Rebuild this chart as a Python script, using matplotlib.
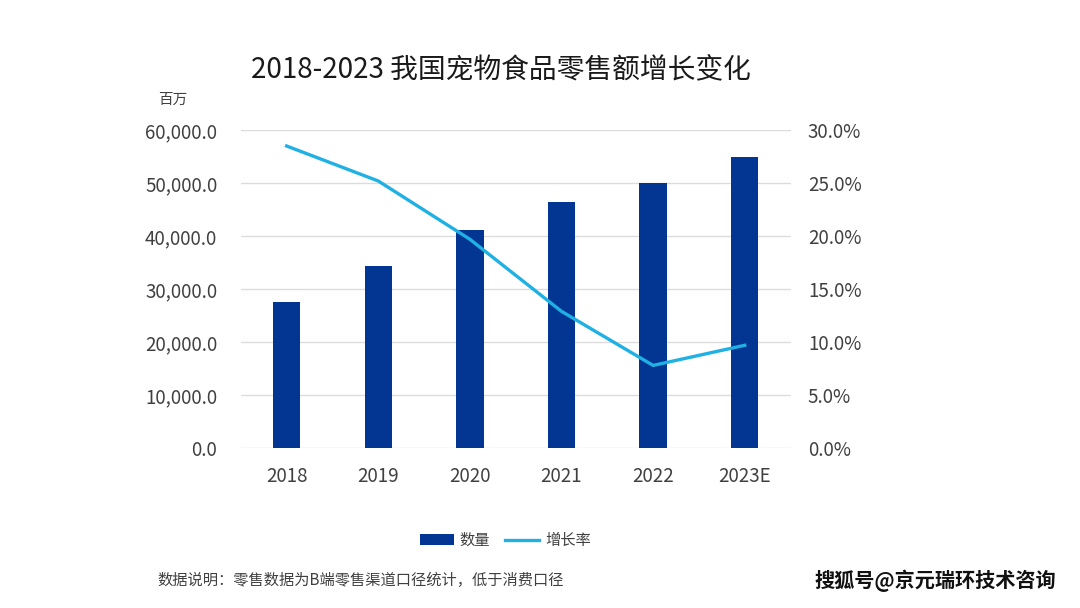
import matplotlib.pyplot as plt
from matplotlib.ticker import FuncFormatter

plt.rcParams['font.family'] = ['Noto Sans CJK SC', 'DejaVu Sans']

years = ["2018", "2019", "2020", "2021", "2022", "2023E"]
sales = [27500, 34300, 41100, 46400, 50000, 54900]
growth = [28.5, 25.2, 19.7, 12.9, 7.8, 9.7]

bar_color = "#033592"
line_color = "#1fb0e4"
text_color = "#404040"

fig = plt.figure(figsize=(10.8, 6.08), dpi=100)
ax = fig.add_axes([0.223, 0.263, 0.509, 0.523])

x = range(len(years))
ax.bar(x, sales, width=0.3, color=bar_color, label="数量", zorder=3)
ax.set_ylim(0, 60000)
ax.set_yticks(range(0, 60001, 10000))
ax.yaxis.set_major_formatter(FuncFormatter(lambda v, p: f"{v:,.1f}"))
ax.set_xlim(-0.5, len(years) - 0.5)
ax.set_xticks(list(x))
ax.set_xticklabels(years)
ax.grid(axis="y", color="#dcdcdc", linewidth=1, zorder=0)
for s in ax.spines.values():
    s.set_visible(False)
ax.tick_params(length=0, labelsize=13.5, colors=text_color, pad=17)
ax.tick_params(axis="x", pad=13)

ax2 = ax.twinx()
ax2.plot(x, growth, color=line_color, linewidth=2.4, label="增长率", zorder=4)
ax2.set_ylim(0, 30)
ax2.set_yticks(range(0, 31, 5))
ax2.yaxis.set_major_formatter(FuncFormatter(lambda v, p: f"{v:.1f}%"))
for s in ax2.spines.values():
    s.set_visible(False)
ax2.tick_params(length=0, labelsize=13.5, colors=text_color, pad=12.5)

fig.text(0.464, 0.884, "2018-2023 我国宠物食品零售额增长变化", ha="center",
         va="center", fontsize=20, color="#1a1a1a")
fig.text(0.146, 0.835, "百万", fontsize=10.5, color=text_color, va="center")

h1, l1 = ax.get_legend_handles_labels()
h2, l2 = ax2.get_legend_handles_labels()
fig.legend(h1 + h2, l1 + l2, loc="center", bbox_to_anchor=(0.468, 0.111),
           ncol=2, frameon=False, fontsize=11, handlelength=2.2,
           handleheight=0.7, columnspacing=1.0, handletextpad=0.4,
           labelcolor=text_color)

fig.text(0.146, 0.046, "数据说明：零售数据为B端零售渠道口径统计，低于消费口径",
         fontsize=11, color=text_color, va="center")
fig.text(0.978, 0.044, "搜狐号@京元瑞环技术咨询", fontsize=14.5, color="#111111",
         va="center", ha="right", fontweight="bold")

fig.savefig("out.png", dpi=100)
